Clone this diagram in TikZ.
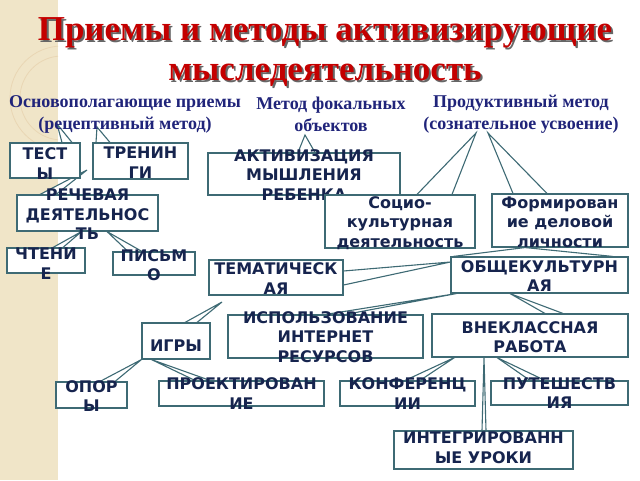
\documentclass[tikz,border=0pt]{standalone}
\usepackage{fontspec}
\setmainfont{Liberation Serif}
\newfontfamily\boxfont{DejaVu Sans}
\usetikzlibrary{positioning}
\pgfdeclarelayer{back}
\pgfsetlayers{back,main}
\definecolor{lnc}{RGB}{62,106,116}
\definecolor{txc}{RGB}{22,36,78}
\definecolor{hdc}{RGB}{32,36,122}
\definecolor{ttc}{RGB}{196,0,0}
\definecolor{strip}{RGB}{240,229,200}
\tikzset{
  box/.style = {rectangle, draw=lnc, fill=white, line width=1.1pt, inner sep=0pt},
  txt/.style = {font=\boxfont\bfseries\fontsize{16}{19.5}\selectfont, text=txc, align=center, inner sep=0pt},
  ptr/.style = {draw=lnc, fill=white, line width=1.1pt, line join=miter},
  head/.style = {font=\bfseries\fontsize{18}{22}\selectfont, text=hdc, align=center, inner sep=0pt},
  ttl/.style = {font=\bfseries\fontsize{35}{40}\selectfont, align=center, inner sep=0pt},
}

\begin{document}
\begin{tikzpicture}[x=1pt, y=-1pt]

    \useasboundingbox (0,0) rectangle (640,480);

    % Title and headings
    \node (ttlshadow) [ttl, text=black!60] at (327,54) {Приемы и методы активизирующие\\мыследеятельность};
    \node (ttl) [ttl, text=ttc] at (325,52) {Приемы и методы активизирующие\\мыследеятельность};

    \node (hrec) [head] at (125,114) {Основополагающие приемы\\(рецептивный метод)};
    \node (hfoc) [head] at (331,114) {Метод фокальных\\объектов};
    \node (hprod) [head] at (521,114) {Продуктивный метод\\(сознательное усвоение)};

    % Pointer tips in open space
    \coordinate (tipTests) at (57,124);
    \coordinate (tipTrain) at (97,127);
    \coordinate (tipSpeech) at (87,170);
    \coordinate (tipActiv) at (305,135);
    \coordinate (tipSocio) at (476,133);
    \coordinate (tipForm) at (488,133);
    \coordinate (tipGames) at (222,302);

    % Boxes
    \node (tests) [box, minimum width=70, minimum height=35, label={[txt, yshift=-3pt]center:{ТЕСТ\\Ы}}] at (45,160.5) {};
    \node (train) [box, minimum width=95, minimum height=36, label={[txt, yshift=-1.5pt]center:{ТРЕНИН\\ГИ}}] at (140.5,161) {};
    \node (speech) [box, minimum width=141, minimum height=36, label={[txt, yshift=-1.5pt]center:{РЕЧЕВАЯ\\ДЕЯТЕЛЬНОС\\ТЬ}}] at (87.5,213) {};
    \node (read) [box, minimum width=78, minimum height=25, label={[txt, yshift=-3pt]center:{ЧТЕНИ\\Е}}] at (46,260.5) {};
    \node (write) [box, minimum width=82, minimum height=23, label={[txt, yshift=-1.5pt]center:{ПИСЬМ\\О}}] at (154,263.5) {};

    \node (activ) [box, minimum width=192, minimum height=42, label={[txt, yshift=-1pt]center:{АКТИВИЗАЦИЯ\\МЫШЛЕНИЯ\\РЕБЕНКА}}] at (304,174) {};

    \node (socio) [box, minimum width=150, minimum height=53, label={[txt, yshift=-1.5pt]center:{Социо-\\культурная\\деятельность}}] at (400,221.5) {};
    \node (form) [box, minimum width=136, minimum height=53, label={[txt, yshift=-1.5pt]center:{Формирован\\ие деловой\\личности}}] at (560,220.5) {};

    \node (them) [box, minimum width=134, minimum height=35, label={[txt, yshift=-1pt]center:{ТЕМАТИЧЕСК\\АЯ}}] at (276,277.5) {};
    \node (gen) [box, minimum width=177, minimum height=36, label={[txt, yshift=-1pt]center:{ОБЩЕКУЛЬТУРН\\АЯ}}] at (539.5,275) {};

    \node (games) [box, minimum width=68, minimum height=36, label={[txt, yshift=-5pt]center:{ИГРЫ}}] at (176,341) {};
    \node (inet) [box, minimum width=195, minimum height=43, label={[txt, yshift=-0.5pt]center:{ИСПОЛЬЗОВАНИЕ\\ИНТЕРНЕТ\\РЕСУРСОВ}}] at (325.5,336.5) {};
    \node (extra) [box, minimum width=196, minimum height=43, label={[txt, yshift=-1.5pt]center:{ВНЕКЛАССНАЯ\\РАБОТА}}] at (530,335.5) {};

    \node (supp) [box, minimum width=71, minimum height=26, label={[txt, yshift=-1pt]center:{ОПОР\\Ы}}] at (91.5,395) {};
    \node (proj) [box, minimum width=165, minimum height=25, label={[txt]center:{ПРОЕКТИРОВАН\\ИЕ}}] at (241.5,393.5) {};
    \node (conf) [box, minimum width=135, minimum height=25, label={[txt]center:{КОНФЕРЕНЦ\\ИИ}}] at (407.5,393.5) {};
    \node (trav) [box, minimum width=137, minimum height=24, label={[txt]center:{ПУТЕШЕСТВ\\ИЯ}}] at (559.5,393) {};
    \node (integ) [box, minimum width=179, minimum height=38, label={[txt, yshift=2.5pt]center:{ИНТЕГРИРОВАНН\\ЫЕ УРОКИ}}] at (483.5,450) {};

    % Strip and pointers behind the boxes
    \begin{pgfonlayer}{back}
    \fill[strip] (0,0) rectangle (58,480);
    \begin{scope}
    \clip (0,0) rectangle (58,480);
    \draw[strip!85!brown, line width=0.8pt] (62,98) circle (52);
    \draw[strip!85!brown, line width=0.8pt] (62,98) circle (42);
    \end{scope}

    \filldraw[ptr] ([xshift=17pt]tests.north) -- (tipTests) -- ([xshift=27pt]tests.north);
    \filldraw[ptr] ([xshift=-44.5pt]train.north) -- (tipTrain) -- ([xshift=-30.5pt]train.north);
    \filldraw[ptr] ([xshift=-47.5pt]speech.north) -- (tipSpeech) -- ([xshift=-31.5pt]speech.north);
    \filldraw[ptr] ([xshift=7pt]read.north) -- ([xshift=-6pt]speech.south) -- ([xshift=17pt]read.north);
    \filldraw[ptr] ([xshift=-26pt]write.north) -- ([xshift=19.5pt]speech.south) -- ([xshift=-12pt]write.north);

    \filldraw[ptr] ([xshift=-6pt]activ.north) -- (tipActiv) -- ([xshift=11pt]activ.north);
    \filldraw[ptr] ([xshift=17pt]socio.north) -- (tipSocio) -- ([xshift=52pt]socio.north);
    \filldraw[ptr] ([xshift=-47pt]form.north) -- (tipForm) -- ([xshift=-13pt]form.north);

    \filldraw[ptr] ([xshift=-86.5pt]gen.north) -- ([xshift=-35pt]form.south) -- ([xshift=73.5pt]gen.north);
    \filldraw[ptr] ([yshift=6.5pt]them.east) -- ([yshift=13pt]gen.west) -- ([yshift=-7.5pt]them.east);
    \filldraw[ptr] (inet.north) -- ([xshift=6pt]gen.south west) -- ([xshift=20pt]inet.north);
    \filldraw[ptr] ([xshift=15pt]extra.north) -- ([xshift=-29.5pt]gen.south) -- ([xshift=33pt]extra.north);

    \filldraw[ptr] ([xshift=9pt]games.north) -- (tipGames) -- ([xshift=21pt]games.north);
    \filldraw[ptr] ([xshift=8.5pt]supp.north) -- (games.south west) -- ([xshift=23.5pt]supp.north);
    \filldraw[ptr] ([xshift=-46.5pt]proj.north) -- ([xshift=10pt]games.south west) -- ([xshift=-31.5pt]proj.north);
    \filldraw[ptr] ([xshift=-2.5pt]conf.north) -- ([xshift=23pt]extra.south west) -- ([xshift=12.5pt]conf.north);
    \filldraw[ptr] ([xshift=-29.5pt]trav.north) -- ([xshift=-33pt]extra.south) -- ([xshift=-14.5pt]trav.north);
    \filldraw[ptr] ([xshift=-1.5pt]integ.north) -- ([xshift=-46pt]extra.south) -- ([xshift=2.5pt]integ.north);
    \end{pgfonlayer}

\end{tikzpicture}
\end{document}
